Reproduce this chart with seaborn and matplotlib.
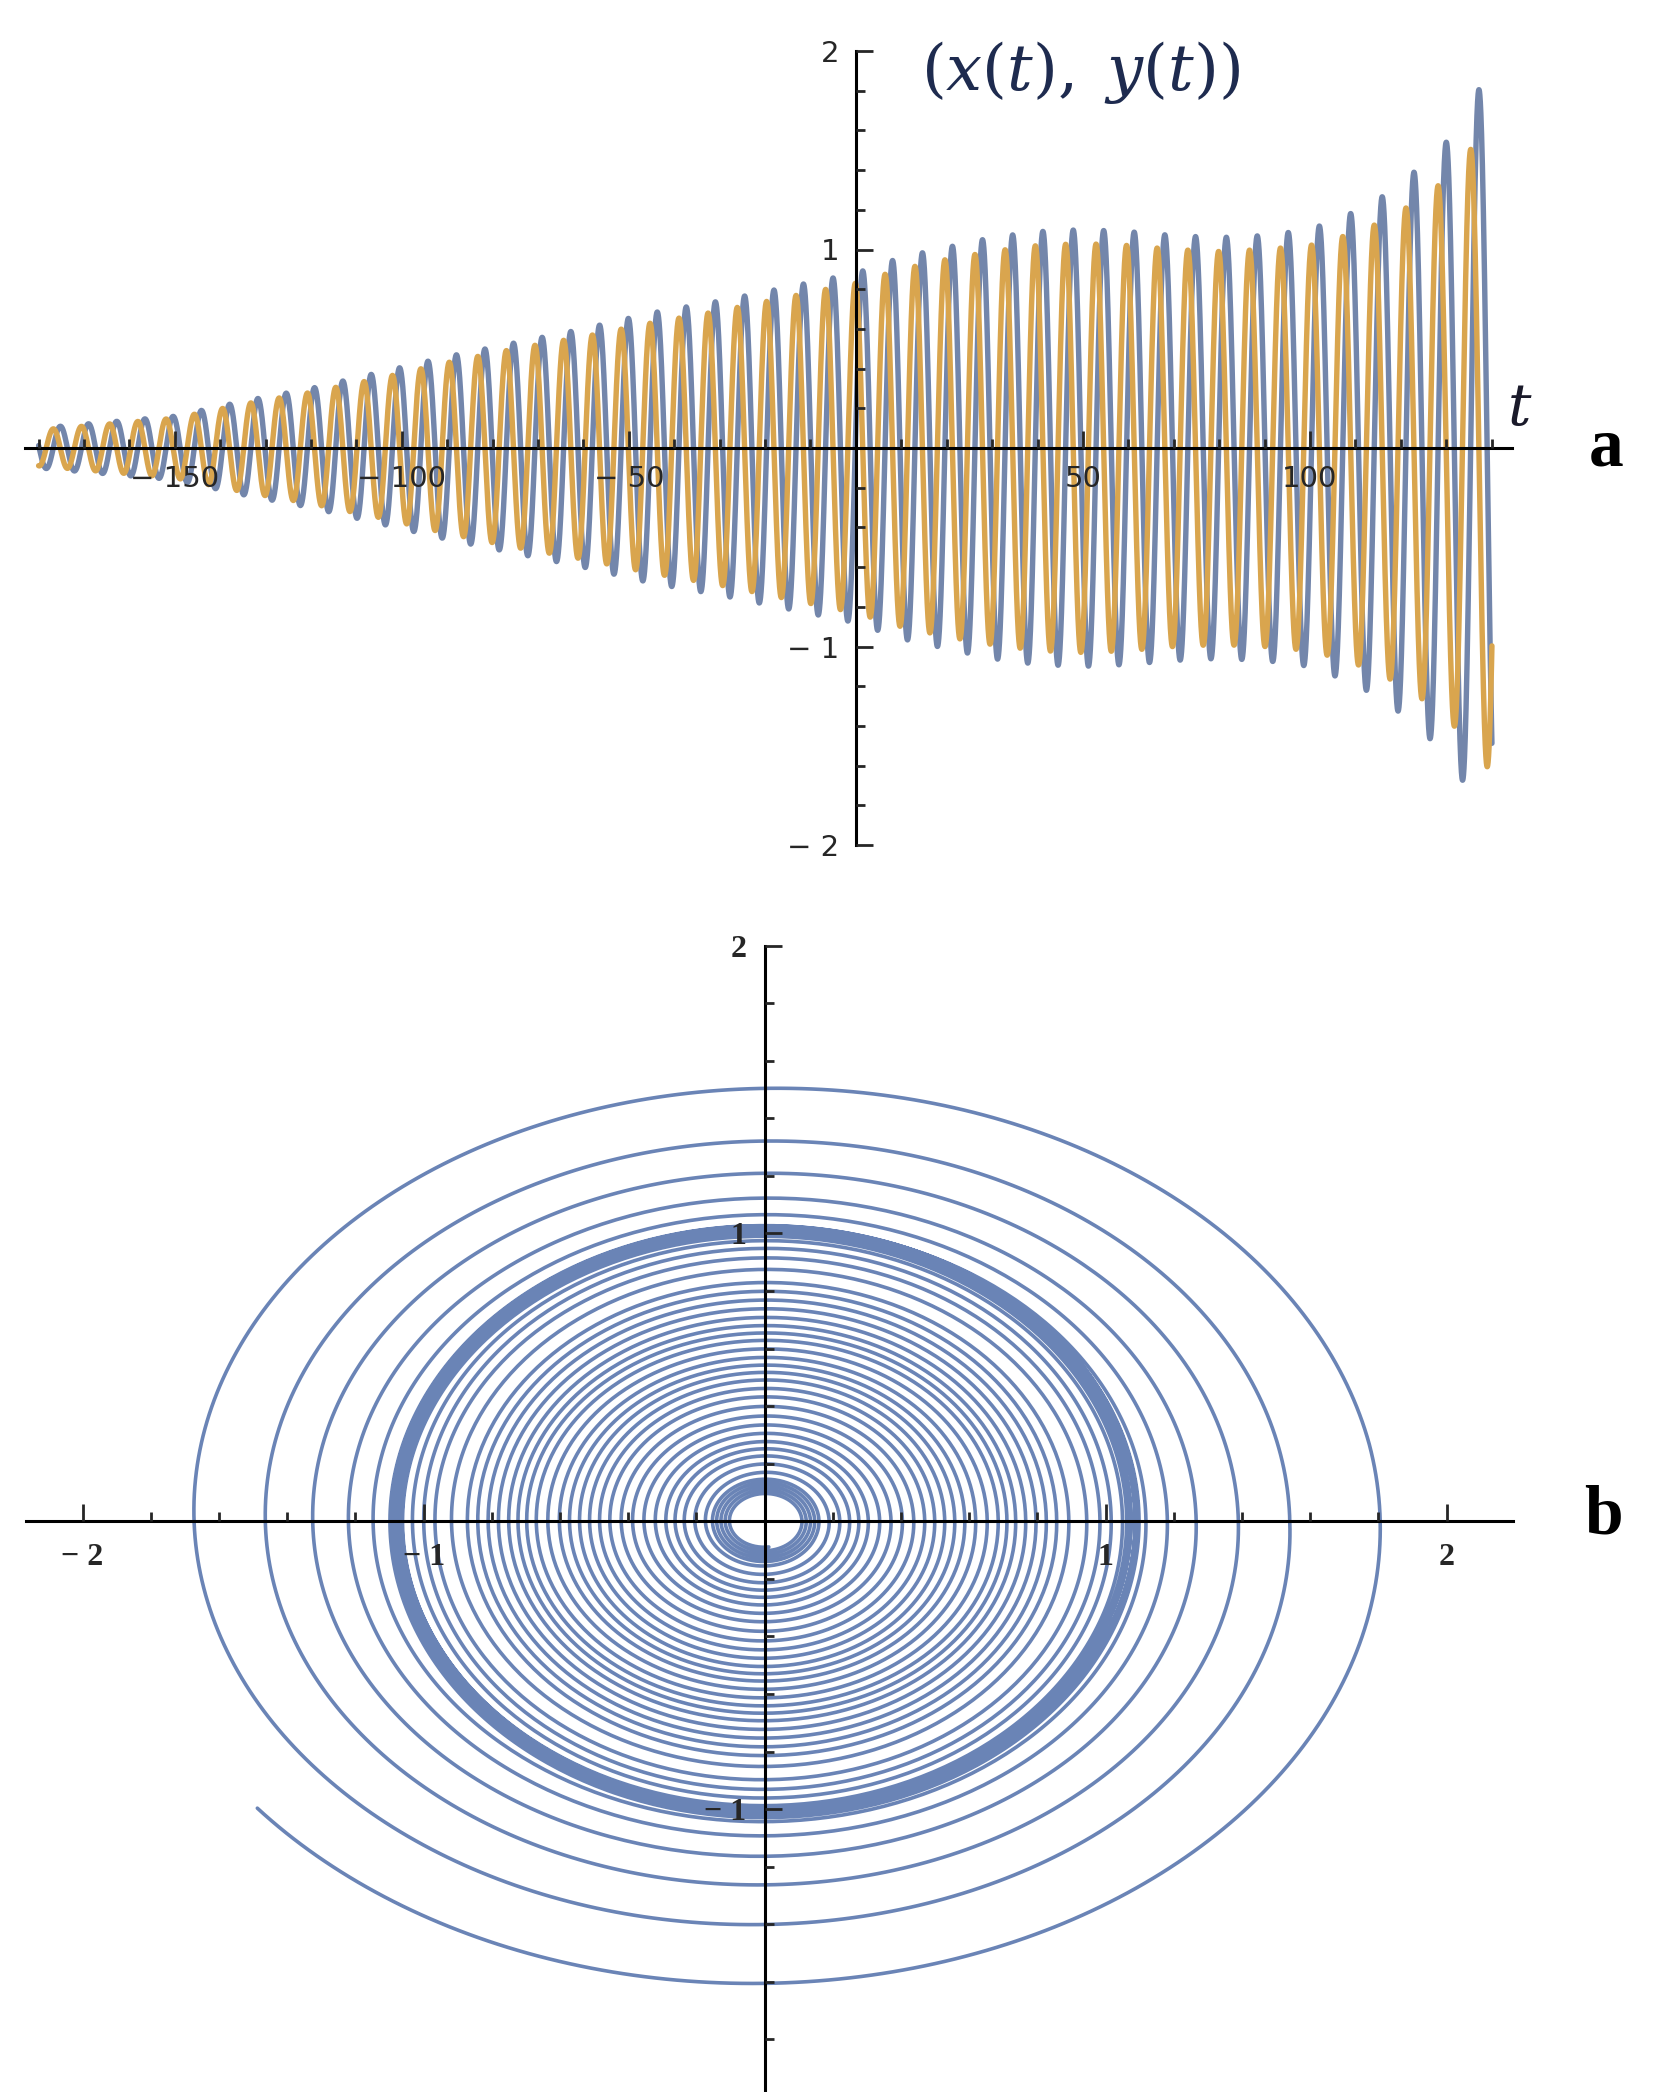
import numpy as np
import pandas as pd
import matplotlib
matplotlib.use("Agg")
import matplotlib.pyplot as plt
import seaborn as sns

# envelope of the oscillation (peak heights of x and y)
t_knots = [-180, -165, -150, -135, -120, -105, -90, -75, -60, -45, -30, -15, 0,
           10, 20, 30, 40, 50, 60, 70, 80, 90, 100, 108, 115, 122, 130, 137, 141]
amp_x = [0.10, 0.13, 0.16, 0.235, 0.30, 0.38, 0.46, 0.53, 0.60, 0.68, 0.74, 0.81, 0.88,
         0.96, 1.01, 1.06, 1.09, 1.10, 1.09, 1.07, 1.06, 1.07, 1.10, 1.17, 1.25, 1.37, 1.54, 1.80, 1.90]
amp_y = [0.09, 0.12, 0.15, 0.22, 0.28, 0.35, 0.43, 0.50, 0.56, 0.63, 0.69, 0.76, 0.83,
         0.90, 0.95, 0.99, 1.02, 1.03, 1.02, 1.00, 0.99, 1.00, 1.02, 1.07, 1.13, 1.22, 1.35, 1.55, 1.66]

# oscillation period (in t) measured from bar spacing
period_t = [-180, -100, -50, 0, 50, 100, 120, 140]
period_vals = [6.2, 6.25, 6.35, 6.55, 6.7, 6.85, 7.0, 7.3]

t_start, t_end = -180.0, 140.08
t_last_peak = 137.2   # last blue maximum

# axis ticks / labels
top_xmajor = [-150, -100, -50, 50, 100]
top_xlabels = ["\u2212 150", "\u2212 100", "\u2212 50", "50", "100"]
top_ymajor = [-2, -1, 1, 2]
top_ylabels = ["\u2212 2", "\u2212 1", "1", "2"]
bot_xmajor = [-2, -1, 1, 2]
bot_xlabels = ["\u2212 2", "\u2212 1", "1", "2"]
bot_ymajor = [-1, 1, 2]
bot_ylabels = ["\u2212 1", "1", "2"]

BLUE = "#7386AB"
ORANGE = "#D9A54E"
SPIRAL = "#6A84B6"

# build curves
t = np.arange(t_start, t_end, 0.02)
per = np.interp(t, period_t, period_vals)
omega = 2 * np.pi / per
theta = np.concatenate([[0], np.cumsum(0.5 * (omega[1:] + omega[:-1]) * np.diff(t))])
theta = theta - np.interp(t_last_peak, t, theta) + np.pi
ax_env = np.interp(t, t_knots, amp_x)
ay_env = np.interp(t, t_knots, amp_y)
x = -ax_env * np.cos(theta)
y = ay_env * np.sin(theta)

df_long = pd.DataFrame({
    "t": np.concatenate([t, t]),
    "value": np.concatenate([x, y]),
    "series": ["x"] * len(t) + ["y"] * len(t),
})
df_phase = pd.DataFrame({"x": x, "y": y})

sns.set_style("white")
plt.rcParams["mathtext.fontset"] = "dejavuserif"
plt.rcParams["font.family"] = ["DejaVu Sans"]

W, H = 1659, 2092
fig = plt.figure(figsize=(W / 100, H / 100), dpi=100)


def px_axes(left, right, top, bottom):
    return fig.add_axes([left / W, 1 - bottom / H, (right - left) / W, (bottom - top) / H])


def style_axes(ax):
    for side in ["top", "right"]:
        ax.spines[side].set_visible(False)
    for side in ["left", "bottom"]:
        ax.spines[side].set_position(("data", 0))
        ax.spines[side].set_linewidth(2.2)
        ax.spines[side].set_color("black")
    ax.set_xlabel("")
    ax.set_ylabel("")
    ax.patch.set_alpha(0)
    ax.set_axisbelow(False)
    ax.tick_params(bottom=True, left=True, top=False, right=False, which="both")


# ---- panel a ----
ax1 = px_axes(25, 1512, 51, 845)
sns.lineplot(data=df_long, x="t", y="value", hue="series", hue_order=["x", "y"],
             palette=[BLUE, ORANGE], estimator=None, errorbar=None, legend=False,
             linewidth=3.9, ax=ax1)
ax1.set_xlim(-183, 144.5)
ax1.set_ylim(-2, 2)
style_axes(ax1)
ax1.set_xticks(top_xmajor, top_xlabels)
ax1.set_xticks([v for v in range(-180, 141, 10) if v % 50 != 0], minor=True)
ax1.set_yticks(top_ymajor, top_ylabels)
ax1.set_yticks([round(v, 1) for v in np.arange(-1.8, 1.81, 0.2) if abs(round(v, 1)) not in (0.0, 1.0)], minor=True)
ax1.tick_params(which="major", direction="in", length=12, width=2, labelsize=21, pad=12)
ax1.tick_params(which="minor", direction="in", length=6.5, width=2)
fig.text(1081 / W, 1 - 72 / H, r"$(x(t),\;y(t))$", ha="center", va="center",
         fontsize=46, color="#1E2B4F")
fig.text(1520 / W, 1 - 409 / H, r"$t$", ha="center", va="center", fontsize=42, color="#1A1A2A")
fig.text(1606 / W, 1 - 449 / H, "a", ha="center", va="center", fontsize=50,
         family="Liberation Serif", fontweight="bold", color="black")

# ---- panel b ----
ax2 = px_axes(26, 1512.5, 945.6, 2090)
sns.lineplot(data=df_phase, x="x", y="y", sort=False, estimator=None, errorbar=None,
             color=SPIRAL, linewidth=2.6, ax=ax2)
ax2.set_xlim(-2.166, 2.193)
ax2.set_ylim(-1.976, 2.0)
style_axes(ax2)
ax2.set_xticks(bot_xmajor, bot_xlabels)
ax2.set_xticks([round(v, 1) for v in np.arange(-1.8, 1.81, 0.2) if abs(round(v, 1)) not in (0.0, 1.0)], minor=True)
ax2.set_yticks(bot_ymajor, bot_ylabels)
ax2.set_yticks([round(v, 1) for v in np.arange(-1.8, 1.81, 0.2) if abs(round(v, 1)) not in (0.0, 1.0)], minor=True)
ax2.tick_params(which="major", direction="in", length=12, width=2, labelsize=23, pad=13)
ax2.tick_params(which="minor", direction="in", length=6.5, width=2)
for lab in ax2.get_xticklabels() + ax2.get_yticklabels():
    lab.set_family("Liberation Serif")
    lab.set_fontweight("bold")
ax2.tick_params(axis="x", which="major", pad=16)
fig.text(1603 / W, 1 - 1517 / H, "b", ha="center", va="center", fontsize=50,
         family="Liberation Serif", fontweight="bold", color="black")

fig.savefig("out.png", dpi=100, facecolor="white")
